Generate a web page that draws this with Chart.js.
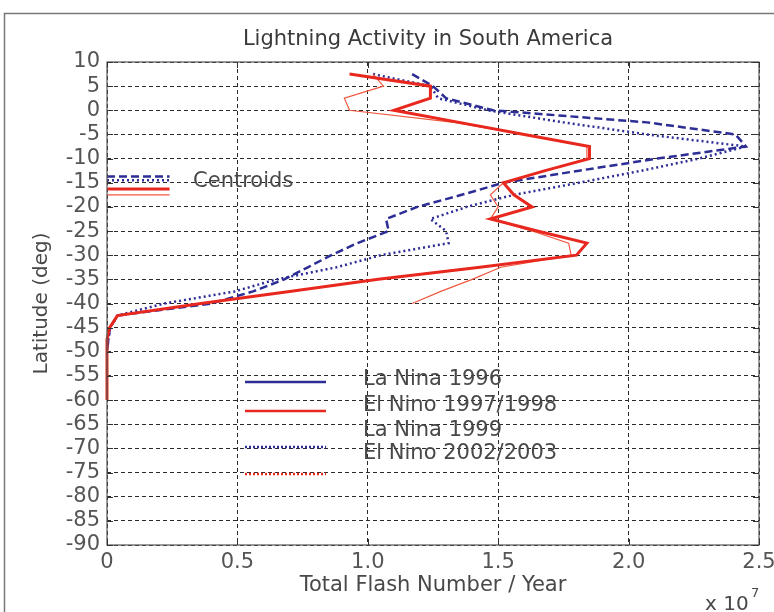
<!DOCTYPE html>
<html>
<head>
<meta charset="utf-8">
<title>Lightning Activity in South America</title>
<script src="https://cdn.jsdelivr.net/npm/chart.js@4.4.1/dist/chart.umd.min.js"></script>
<style>
    html, body { margin: 0; padding: 0; background: #fff; }
    #wrap { width: 774px; height: 612px; }
</style>
</head>
<body>
<div id="wrap"><canvas id="grafico" width="774" height="612"></canvas></div>
<script>
// latitude bands (deg)
const latitudes = [7.5, 5, 2.5, 0, -2.5, -5, -7.5, -10, -12.5, -15, -17.5, -20, -22.5, -25,
    -27.5, -30, -32.5, -35, -37.5, -40, -42.5, -45, -47.5, -50, -52.5, -55, -57.5, -60];

// total flash number / year, in units of 10^7
const laNina1996 = [1.17, 1.25, 1.30, 1.48, 2.07, 2.41, 2.45, 2.11, 1.81, 1.52, 1.36, 1.19, 1.07, 1.08,
    0.96, 0.86, 0.77, 0.68, 0.56, 0.40, 0.04, 0.012, 0.005, 0, null, null, null, null];
const elNino1997 = [0.93, 1.24, 1.24, 1.10, 1.35, 1.60, 1.85, 1.85, 1.68, 1.52, 1.56, 1.63, 1.47, 1.65,
    1.84, 1.80, 1.43, 1.04, 0.70, 0.36, 0.04, 0.01, 0, 0, 0, 0, 0, 0];
const laNina1999 = [1.02, 1.24, 1.27, 1.46, 1.75, 2.07, 2.45, 2.27, 2.05, 1.81, 1.56, 1.38, 1.24, 1.30,
    1.31, 1.05, 0.88, 0.65, 0.49, 0.22, 0.04, 0.012, 0.005, 0, null, null, null, null];
const elNino2002 = [1.02, 1.06, 0.91, 0.93, 1.33, 1.60, 1.84, 1.84, 1.68, 1.52, 1.47, 1.50, 1.47, 1.63,
    1.77, 1.78, 1.51, 1.40, 1.28, 1.17, null, null, null, null, null, null, null, null];

// centroid latitude of each series (same order as the series above)
const centroidLat = [-13.7, -16.3, -14.5, -17.5];
const centroidSpan = [0, 0.24];

const xTicks = [0, 0.5, 1, 1.5, 2, 2.5];
const yTicks = [10, 5, 0, -5, -10, -15, -20, -25, -30, -35, -40, -45, -50, -55, -60, -65, -70, -75, -80, -85, -90];

const legendLabels = ['La Nina 1996', 'El Nino 1997/1998', 'La Nina 1999', 'El Nino 2002/2003'];

const AZUL = '#2d2d96';
const VERMELHO = '#e8281e';
const VERMELHO_CLARO = '#f0583f';
const TEXTO = '#484848';
const FONTE = '"DejaVu Sans", sans-serif';

function pontos(valores) {
    return latitudes
        .map((lat, i) => ({ x: valores[i], y: lat }))
        .filter(p => p.x !== null);
}

function linhaCentroide(lat) {
    return centroidSpan.map(x => ({ x: x, y: lat }));
}

const estilos = [
    { borderColor: AZUL, borderWidth: 2.5, borderDash: [8, 4] },
    { borderColor: VERMELHO, borderWidth: 3, borderDash: [] },
    { borderColor: AZUL, borderWidth: 2.5, borderDash: [2, 3] },
    { borderColor: VERMELHO_CLARO, borderWidth: 1.2, borderDash: [] }
];
const series = [laNina1996, elNino1997, laNina1999, elNino2002];

const base = { showLine: true, pointRadius: 0, tension: 0, fill: false, clip: false };

// red thick first so it is painted on top
const ordem = [1, 3, 0, 2];
const datasets = [];
ordem.forEach(i => {
    datasets.push(Object.assign({ label: legendLabels[i], data: pontos(series[i]) }, base, estilos[i]));
});
ordem.forEach(i => {
    datasets.push(Object.assign({ label: 'centroid ' + legendLabels[i], data: linhaCentroide(centroidLat[i]) }, base, estilos[i]));
});

// frame, box, inward ticks, titles and legend
const decoracao = {
    id: 'decoracao',
    beforeDraw(chart) {
        const ctx = chart.ctx;
        ctx.save();
        ctx.fillStyle = '#fff';
        ctx.fillRect(0, 0, chart.width, chart.height);
        ctx.strokeStyle = '#777';
        ctx.lineWidth = 1.5;
        ctx.beginPath();
        ctx.moveTo(4.5, chart.height);
        ctx.lineTo(4.5, 13.5);
        ctx.lineTo(chart.width, 13.5);
        ctx.stroke();
        ctx.restore();
    },
    afterDraw(chart) {
        const ctx = chart.ctx;
        const a = chart.chartArea;
        const sx = chart.scales.x;
        const sy = chart.scales.y;
        ctx.save();

        // axes box
        ctx.strokeStyle = '#555';
        ctx.lineWidth = 1.2;
        ctx.setLineDash([]);
        ctx.strokeRect(a.left, a.top, a.right - a.left, a.bottom - a.top);

        // inward tick marks
        ctx.strokeStyle = '#333';
        ctx.lineWidth = 1;
        ctx.beginPath();
        xTicks.forEach(v => {
            const px = Math.round(sx.getPixelForValue(v)) + 0.5;
            ctx.moveTo(px, a.bottom); ctx.lineTo(px, a.bottom - 6);
            ctx.moveTo(px, a.top); ctx.lineTo(px, a.top + 6);
        });
        yTicks.forEach(v => {
            const py = Math.round(sy.getPixelForValue(v)) + 0.5;
            ctx.moveTo(a.left, py); ctx.lineTo(a.left + 6, py);
            ctx.moveTo(a.right, py); ctx.lineTo(a.right - 6, py);
        });
        ctx.stroke();

        // titles
        ctx.fillStyle = '#3a3a3a';
        ctx.font = '21px ' + FONTE;
        ctx.textAlign = 'center';
        ctx.textBaseline = 'middle';
        ctx.fillText('Lightning Activity in South America', 428, 40);

        ctx.fillStyle = TEXTO;
        ctx.fillText('Total Flash Number / Year', (a.left + a.right) / 2, 586);

        ctx.save();
        ctx.translate(42, (a.top + a.bottom) / 2);
        ctx.rotate(-Math.PI / 2);
        ctx.font = '20px ' + FONTE;
        ctx.fillText('Latitude (deg)', 0, 0);
        ctx.restore();

        // x 10^7 multiplier
        ctx.textAlign = 'left';
        ctx.textBaseline = 'alphabetic';
        ctx.font = '20px ' + FONTE;
        ctx.fillText('x 10', 705, 610);
        ctx.font = '13px ' + FONTE;
        ctx.fillText('7', 751, 597);

        // centroid label
        ctx.font = '21px ' + FONTE;
        ctx.textBaseline = 'middle';
        ctx.fillText('Centroids', sx.getPixelForValue(0.33), sy.getPixelForValue(-14.7));

        // legend
        const linhasY = [382, 411, 447, 474];
        const textosY = [380, 406, 431, 454];
        const legendaEstilo = [
            { cor: AZUL, dash: [] },
            { cor: VERMELHO, dash: [] },
            { cor: AZUL, dash: [2, 2] },
            { cor: VERMELHO, dash: [2, 2] }
        ];
        legendLabels.forEach((txt, i) => {
            ctx.strokeStyle = legendaEstilo[i].cor;
            ctx.lineWidth = 2.5;
            ctx.setLineDash(legendaEstilo[i].dash);
            ctx.beginPath();
            ctx.moveTo(245, linhasY[i]);
            ctx.lineTo(326, linhasY[i]);
            ctx.stroke();
            ctx.fillStyle = TEXTO;
            ctx.fillText(txt, 363, textosY[i]);
        });

        ctx.restore();
    }
};

const ctx = document.getElementById('grafico');
new Chart(ctx.getContext('2d'), {
    type: 'scatter',
    data: { datasets: datasets },
    options: {
        responsive: false,
        animation: false,
        layout: { padding: { top: 62, right: 15, left: 0, bottom: 0 } },
        plugins: {
            legend: { display: false },
            tooltip: { enabled: false }
        },
        scales: {
            x: {
                type: 'linear',
                min: 0,
                max: 2.5,
                afterBuildTicks: s => { s.ticks = xTicks.map(v => ({ value: v })); },
                ticks: { color: '#555', font: { family: FONTE, size: 21 }, padding: 5, maxRotation: 0, autoSkip: false },
                grid: { color: '#2a2a2a', lineWidth: 1, drawTicks: false },
                border: { display: false, dash: [4, 3] },
                afterFit: s => { s.height = 67; s.paddingLeft = 0; s.paddingRight = 0; }
            },
            y: {
                type: 'linear',
                min: -90,
                max: 10,
                afterBuildTicks: s => { s.ticks = yTicks.map(v => ({ value: v })); },
                ticks: { color: '#555', font: { family: FONTE, size: 21 }, padding: 7, autoSkip: false },
                grid: { color: '#2a2a2a', lineWidth: 1, drawTicks: false },
                border: { display: false, dash: [4, 3] },
                afterFit: s => { s.width = 107; s.paddingTop = 0; s.paddingBottom = 0; }
            }
        }
    },
    plugins: [decoracao]
});
</script>
</body>
</html>
